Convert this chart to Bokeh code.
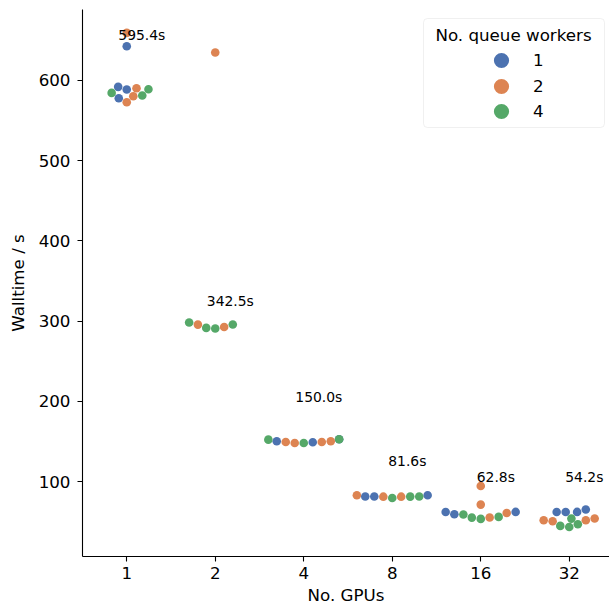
import numpy as np
from bokeh.plotting import figure
from bokeh.models import (Range1d, FixedTicker, ColumnDataSource, Legend, LegendItem,
                          BoxAnnotation, Label)
from bokeh.core.properties import value
from bokeh.embed import file_html
from bokeh.resources import INLINE

# ---------------- data ----------------
gpu_labels = ["1", "2", "4", "8", "16", "32"]
worker_labels = ["1", "2", "4"]

# walltimes (s) per GPU count, for each number of queue workers
walltime_w1 = [[642.3, 591.7, 588.4, 577.6], [], [149.2, 150.4, 153.0],
               [81.6, 81.6, 83.2], [62.5, 59.6, 62.5], [65.4, 62.5, 62.5, 62.5]]
walltime_w2 = [[658.9, 590.0, 580.0, 572.6], [634.5, 295.7, 292.8],
               [148.4, 149.6, 149.6, 150.4], [83.15, 81.5, 81.5],
               [94.8, 71.6, 55.6, 61.2], [52.1, 50.8, 52.1, 54.3]]
walltime_w4 = [[584.2, 588.8, 581.0], [298.3, 291.6, 290.9, 295.9],
               [152.9, 148.3, 152.5], [79.9, 81.55, 81.65],
               [59.2, 55.4, 53.8, 56.3], [54.2, 45.1, 43.8, 47.1]]

note_text = ["595.4s", "342.5s", "150.0s", "81.6s", "62.8s", "54.2s"]
note_y = [656, 325, 205.5, 125.5, 106, 106]

y_ticks = [100, 200, 300, 400, 500, 600]

# ---------------- layout constants ----------------
W, H = 609, 608
B_LEFT, B_TOP, B_BOTTOM = 82, 9, 52
FRAME_W = W - B_LEFT
FRAME_H = H - B_TOP - B_BOTTOM
PX_PER_CAT = 88.5
X0 = -0.5
X1 = X0 + FRAME_W / PX_PER_CAT
Y0, Y1 = 7, 688
PX_PER_Y = FRAME_H / (Y1 - Y0)
RADIUS = 4.3
FONT = "DejaVu Sans"
COLORS = ["#4C72B0", "#DD8452", "#55A868"]


def beeswarm(ys_px, r):
    n = len(ys_px)
    out = np.zeros(n)
    if n == 0:
        return out
    order = np.argsort(ys_px, kind="stable")
    placed = []
    for idx in order:
        y = ys_px[idx]
        neighbors = []
        for (xj, yj) in reversed(placed):
            if (y - yj) < 2 * r:
                neighbors.append((xj, yj))
            else:
                break
        cands = [0.0]
        left_first = True
        for xj, yj in neighbors:
            dy = y - yj
            dx = np.sqrt(max((2 * r) ** 2 - dy ** 2, 0)) * 1.05
            if left_first:
                cands += [xj - dx, xj + dx]
            else:
                cands += [xj + dx, xj - dx]
            left_first = not left_first
        cands = np.array(cands)
        cands = cands[np.argsort(np.abs(cands), kind="stable")]
        x = cands[0]
        if neighbors:
            nb = np.array(neighbors)
            for c in cands:
                if np.all((nb[:, 0] - c) ** 2 + (nb[:, 1] - y) ** 2 >= (2 * r) ** 2):
                    x = c
                    break
        placed.append((x, y))
        out[idx] = x
    return out


series = [walltime_w1, walltime_w2, walltime_w4]
pts = {k: {"x": [], "y": []} for k in range(3)}
half = 0.4 * PX_PER_CAT
for gi in range(len(gpu_labels)):
    vals, hues = [], []
    for h, s in enumerate(series):
        for v in s[gi]:
            vals.append(v)
            hues.append(h)
    ys = np.array(vals) * PX_PER_Y
    offs = np.clip(beeswarm(ys, RADIUS), -half, half)
    for v, h, o in zip(vals, hues, offs):
        pts[h]["x"].append(gi + o / PX_PER_CAT)
        pts[h]["y"].append(v)

p = figure(width=W, height=H, x_range=Range1d(X0, X1), y_range=Range1d(Y0, Y1),
           output_backend="svg", toolbar_location=None,
           min_border_left=B_LEFT, min_border_right=0, min_border_top=B_TOP,
           min_border_bottom=B_BOTTOM)
p.outline_line_color = None
p.xgrid.visible = False
p.ygrid.visible = False
p.background_fill_color = "white"
p.border_fill_color = "white"

renderers = []
for h in range(3):
    src = ColumnDataSource(data=pts[h])
    r = p.scatter("x", "y", source=src, size=2 * RADIUS, fill_color=COLORS[h],
                  line_color=None)
    renderers.append(r)

note_src = ColumnDataSource(data=dict(x=[i + 0.17 for i in range(len(gpu_labels))],
                                      y=note_y, t=note_text))
p.text("x", "y", text="t", source=note_src, text_font=value(FONT),
       text_font_size="13.9px", text_align="center", text_baseline="middle",
       text_color="black")

for ax in (p.xaxis[0], p.yaxis[0]):
    ax.axis_line_color = "black"
    ax.axis_line_width = 1.1
    ax.major_tick_line_color = "black"
    ax.major_tick_line_width = 1.1
    ax.major_tick_out = 5
    ax.major_tick_in = 0
    ax.minor_tick_line_color = None
    ax.major_label_text_font = FONT
    ax.major_label_text_font_size = "16.7px"
    ax.major_label_text_color = "black"
    ax.axis_label_text_font = FONT
    ax.axis_label_text_font_size = "16.7px"
    ax.axis_label_text_font_style = "normal"
    ax.axis_label_text_color = "black"

p.xaxis.ticker = FixedTicker(ticks=list(range(len(gpu_labels))))
p.xaxis.major_label_overrides = {i: lab for i, lab in enumerate(gpu_labels)}
p.xaxis.axis_label = "No. GPUs"
p.xaxis.major_label_standoff = 5
p.xaxis.axis_label_standoff = 3
p.yaxis.ticker = FixedTicker(ticks=y_ticks)
p.yaxis.axis_label = "Walltime / s"
p.yaxis.major_label_standoff = 7
p.yaxis.axis_label_standoff = 8

# legend frame + title
box = BoxAnnotation(left=341, right=522, top=538, bottom=429,
                    left_units="screen", right_units="screen",
                    top_units="screen", bottom_units="screen",
                    fill_color="white", fill_alpha=0.8,
                    line_color="#cccccc", line_width=1, border_radius=4)
p.add_layout(box)
title = Label(x=431, y=522, x_units="screen", y_units="screen",
              text="No. queue workers", text_align="center", text_baseline="middle",
              text_font=FONT, text_font_size="16.7px", text_color="black")
p.add_layout(title)

# one legend per entry so that rows can sit closer than the glyph box
legend_bottoms = [477, 451, 426]
for h in range(3):
    lg = Legend(items=[LegendItem(label=worker_labels[h], renderers=[renderers[h]])],
                location=(400, legend_bottoms[h]), glyph_width=38, glyph_height=38,
                spacing=0, padding=0, margin=0, label_standoff=13,
                border_line_color=None, background_fill_alpha=0,
                label_text_font=FONT, label_text_font_size="16.7px",
                label_text_color="black")
    p.add_layout(lg)

open("out.html", "w").write(file_html(p, INLINE))
